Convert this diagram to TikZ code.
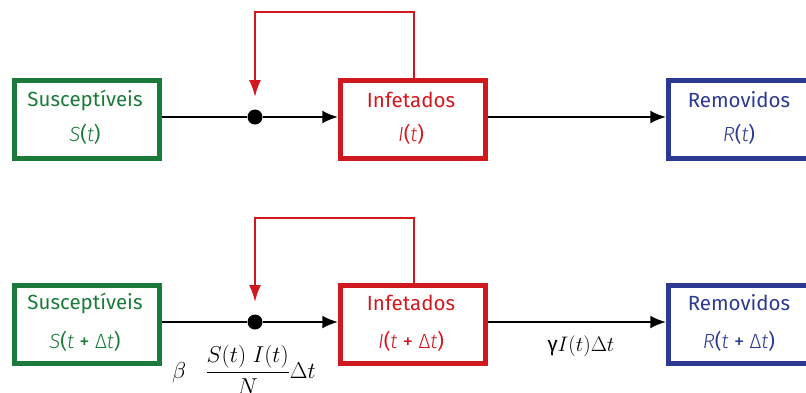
\RequirePackage{fix-cm}
\documentclass[tikz,border=0pt]{standalone}
\usepackage{amsmath}
\usepackage{fontspec}
\setmainfont{Fira Sans}
\newfontfamily\firalight{Fira Sans Light}
\usetikzlibrary{arrows.meta}
\definecolor{cgreen}{HTML}{1B7A3A}
\definecolor{cred}{HTML}{D0191F}
\definecolor{cblue}{HTML}{2B3990}
\newcommand{\vr}[1]{{\firalight\itshape #1}}
\newcommand{\dlt}{{\firalight\upshape Δ}}
\begin{document}
\begin{tikzpicture}[x=1pt,y=-1pt,
  box/.style={draw=#1, line width=4.5pt, minimum width=145pt, minimum height=78pt,
    inner sep=0pt, anchor=north west},
  lbl/.style={font=\fontsize{20.5}{22}\selectfont, anchor=center},
  flow/.style={line width=2.6pt, -{Latex[length=16pt,width=13pt]}},
  fb/.style={draw=cred, line width=2pt, -{Latex[length=17pt,width=12pt]}},
  dotst/.style={circle, fill=black, inner sep=0pt, minimum size=15pt}]
\useasboundingbox (0,0) rectangle (806,392);
% top row
\node[box=cgreen] (S1) at (12.25,78.25) {};
\node[box=cred] (I1) at (338.25,78.25) {};
\node[box=cblue] (R1) at (666.25,78.25) {};
\node[lbl, text=cgreen] (S1a) at (85,100) {Susceptíveis};
\node[lbl, text=cgreen] (S1b) at (85,134) {\vr{S}(\vr{t})};
\node[lbl, text=cred] (I1a) at (411,100) {Infetados};
\node[lbl, text=cred] (I1b) at (411,134) {\vr{I}(\vr{t})};
\node[lbl, text=cblue] (R1a) at (739,100) {Removidos};
\node[lbl, text=cblue] (R1b) at (739,134) {\vr{R}(\vr{t})};
\node[dotst] (D1) at (255,117) {};
\coordinate (F1a) at (414,12);
\coordinate (F1b) at (255,12);
\coordinate (F1c) at (255,97);
\draw[line width=2.6pt] (S1.east|-D1) -- (D1);
\draw[flow] (D1) -- (I1.west|-D1);
\draw[flow] (I1.east|-D1) -- (R1.west|-D1);
\draw[fb] (I1.north-|F1a) -- (F1a) -- (F1b) -- (F1c);
% bottom row
\node[box=cgreen] (S2) at (12.25,283.25) {};
\node[box=cred] (I2) at (338.25,283.25) {};
\node[box=cblue] (R2) at (666.25,283.25) {};
\node[lbl, text=cgreen] (S2a) at (85,303) {Susceptíveis};
\node[lbl, text=cgreen] (S2b) at (85,341) {\vr{S}(\vr{t} + \dlt\vr{t})};
\node[lbl, text=cred] (I2a) at (411,303) {Infetados};
\node[lbl, text=cred] (I2b) at (411,341) {\vr{I}(\vr{t} + \dlt\vr{t})};
\node[lbl, text=cblue] (R2a) at (739,303) {Removidos};
\node[lbl, text=cblue] (R2b) at (739,341) {\vr{R}(\vr{t} + \dlt\vr{t})};
\node[dotst] (D2) at (255,322) {};
\coordinate (F2a) at (414,218);
\coordinate (F2b) at (255,218);
\coordinate (F2c) at (255,302);
\draw[line width=2.6pt] (S2.east|-D2) -- (D2);
\draw[flow] (D2) -- (I2.west|-D2);
\draw[flow] (I2.east|-D2) -- (R2.west|-D2);
\draw[fb] (I2.north-|F2a) -- (F2a) -- (F2b) -- (F2c);
% labels
\node[font=\fontsize{23}{25}\selectfont, anchor=center] (L1) at (244,370)
  {$\beta\;\;\; \dfrac{S(t)\;I(t)}{N}\Delta t$};
\node[font=\fontsize{21}{23}\selectfont, anchor=center] (L2) at (581,346)
  {γ$I(t)\Delta t$};
\end{tikzpicture}
\end{document}
